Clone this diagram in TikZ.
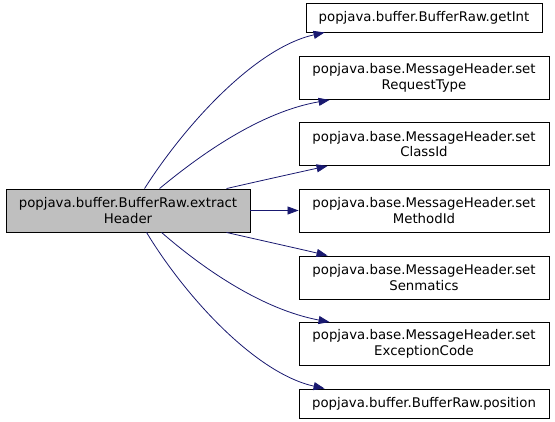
\documentclass[tikz,border=0pt]{standalone}
\usepackage{fontspec}
\setmainfont{DejaVu Sans}
\usetikzlibrary{arrows.meta}
\definecolor{edgeblue}{HTML}{191970}
\definecolor{nodegray}{HTML}{BFBFBF}
\begin{document}
\begin{tikzpicture}[x=1pt,y=-1pt,
  fn/.style={draw=black, line width=0.9pt, inner sep=0pt, align=center,
    font=\fontsize{13.3}{15.5}\selectfont, minimum height=43pt, minimum width=250pt},
  one/.style={minimum height=29pt},
  call/.style={draw=edgeblue, line width=0.8pt, -{Triangle[length=11pt,width=8pt]}}]
\useasboundingbox (0,0) rectangle (555,421);
\node[fn, fill=nodegray, minimum width=244pt] (lf) at (128,210.5) {popjava.buffer.BufferRaw.extract\\Header};
\node[fn, one, minimum width=236pt] (gi) at (424,17.5) {popjava.buffer.BufferRaw.getInt};
\node[fn] (rt) at (424,78) {popjava.base.MessageHeader.set\\RequestType};
\node[fn] (ci) at (424,144) {popjava.base.MessageHeader.set\\ClassId};
\node[fn] (mi) at (424,210.5) {popjava.base.MessageHeader.set\\MethodId};
\node[fn] (se) at (424,277.5) {popjava.base.MessageHeader.set\\Senmatics};
\node[fn] (ec) at (424,344) {popjava.base.MessageHeader.set\\ExceptionCode};
\node[fn, one] (po) at (424,403.5) {popjava.buffer.BufferRaw.position};

\draw[call] ([xshift=139pt]lf.north west) .. controls (185,125) and (255,48) .. ([xshift=19pt]gi.south west);
\draw[call] ([xshift=154pt]lf.north west) .. controls (200,155) and (260,112) .. ([xshift=31pt]rt.south west);
\draw[call] ([xshift=221pt]lf.north west) .. controls (255,182) and (300,172) .. ([xshift=29pt]ci.south west);
\draw[call] (lf.east) -- (mi.west);
\draw[call] ([xshift=221pt]lf.south west) .. controls (255,239) and (300,249) .. ([xshift=29pt]se.north west);
\draw[call] ([xshift=156pt]lf.south west) .. controls (200,266) and (260,309) .. ([xshift=31pt]ec.north west);
\draw[call] ([xshift=141pt]lf.south west) .. controls (185,296) and (255,373) .. ([xshift=26pt]po.north west);
\end{tikzpicture}
\end{document}
